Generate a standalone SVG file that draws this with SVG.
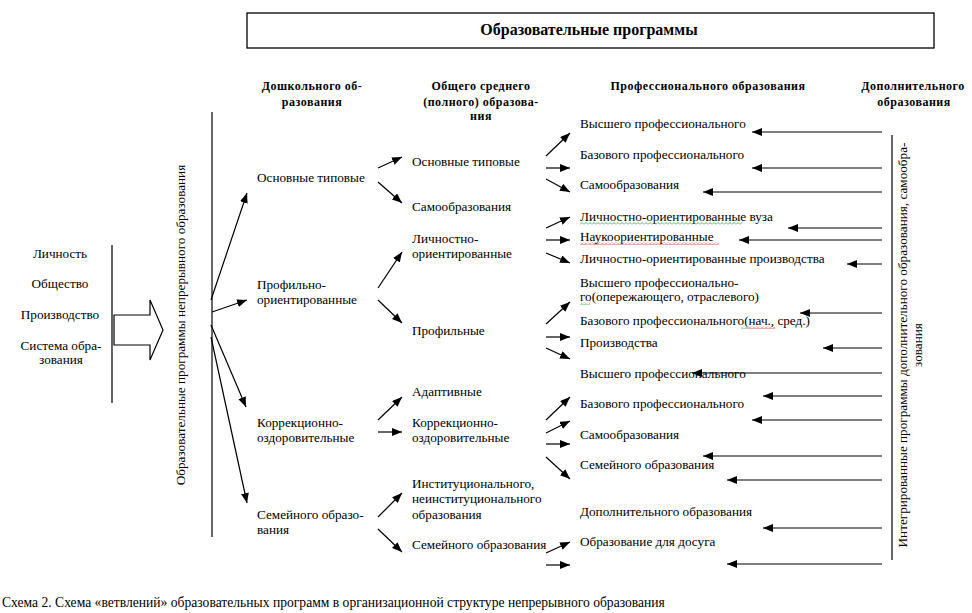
<svg xmlns="http://www.w3.org/2000/svg" width="972" height="613" viewBox="0 0 972 613">
<style>
text{font-family:"Liberation Serif","DejaVu Serif","Times New Roman",serif;font-size:13.2px;fill:#000}
.h{font-weight:bold;font-size:12px;letter-spacing:0.5px;text-anchor:middle}
.t{font-weight:bold;font-size:16px;text-anchor:middle}
.m{text-anchor:middle}
.cap{font-size:13.6px}
.ln{stroke:#000;stroke-width:1.2;fill:none}
.ar{stroke:#000;stroke-width:1.2;fill:none;marker-end:url(#ah)}
</style>
<defs>
<marker id="ah" markerUnits="userSpaceOnUse" markerWidth="11" markerHeight="9" refX="10" refY="4" orient="auto">
<path d="M0,0 L10,4 L0,8 z" fill="#000"/>
</marker>
<pattern id="sqg" patternUnits="userSpaceOnUse" width="4" height="3"><path d="M0,2.5 L2,0.5 L4,2.5" stroke="#3a9a3a" stroke-width="0.8" fill="none"/></pattern>
<pattern id="sqr" patternUnits="userSpaceOnUse" width="4" height="3"><path d="M0,2.5 L2,0.5 L4,2.5" stroke="#e02020" stroke-width="0.8" fill="none"/></pattern>
</defs>
<rect width="972" height="613" fill="#fff"/>

<g id="title">
<rect x="247" y="13" width="687" height="35" fill="#fff" stroke="#000" stroke-width="1.3"/>
<text class="t" x="589" y="35">Образовательные программы</text>
</g>

<g id="headers">
<text class="h" x="312" y="90">Дошкольного об-</text>
<text class="h" x="312" y="106">разования</text>
<text class="h" x="481" y="90">Общего среднего</text>
<text class="h" x="481" y="106">(полного) образова-</text>
<text class="h" x="481" y="120">ния</text>
<text class="h" x="708" y="90">Профессионального образования</text>
<text class="h" x="913" y="90">Дополнительного</text>
<text class="h" x="914" y="106">образования</text>
</g>

<g id="factors">
<text class="m" x="60" y="258">Личность</text>
<text class="m" x="60" y="288">Общество</text>
<text class="m" x="60" y="319">Производство</text>
<text class="m" x="61" y="350">Система обра-</text>
<text class="m" x="61" y="364">зования</text>
<line class="ln" x1="112" y1="245" x2="112" y2="403"/>
<polygon points="114,315 150,315 150,300 163,330 150,360 150,345 114,345" fill="#fff" stroke="#000" stroke-width="1.2"/>
</g>

<g id="continuous-programs">
<line class="ln" x1="212" y1="112" x2="212" y2="537"/>
<text class="m" transform="translate(185,325) rotate(-90)">Образовательные программы непрерывного образования</text>
</g>

<g id="integrated-programs">
<line class="ln" x1="892" y1="135" x2="892" y2="560"/>
<text class="m" transform="translate(907,345) rotate(-90)">Интегрированные программы дополнительного образования, самообра-</text>
<text class="m" transform="translate(922,345) rotate(-90)">зования</text>
</g>

<g id="preschool">
<text x="257" y="182">Основные типовые</text>
<text x="257" y="289">Профильно-</text>
<text x="257" y="304">ориентированные</text>
<text x="257" y="427">Коррекционно-</text>
<text x="257" y="442">оздоровительные</text>
<text x="257" y="519">Семейного образо-</text>
<text x="257" y="534">вания</text>
</g>

<g id="general">
<text x="412" y="166">Основные типовые</text>
<text x="412" y="211">Самообразования</text>
<text x="412" y="243">Личностно-</text>
<text x="412" y="258">ориентированные</text>
<text x="412" y="335">Профильные</text>
<text x="412" y="396">Адаптивные</text>
<text x="412" y="427">Коррекционно-</text>
<text x="412" y="442">оздоровительные</text>
<text x="412" y="488">Институционального,</text>
<text x="412" y="503">неинституционального</text>
<text x="412" y="519">образования</text>
<text x="412" y="549">Семейного образования</text>
</g>

<g id="professional">
<text x="580" y="128">Высшего профессионального</text>
<text x="580" y="159">Базового профессионального</text>
<text x="580" y="189">Самообразования</text>
<text x="580" y="221">Личностно-ориентированные вуза</text>
<text x="580" y="241">Наукоориентированные</text>
<text x="580" y="263">Личностно-ориентированные производства</text>
<text x="580" y="287">Высшего профессионально-</text>
<text x="580" y="301">го(опережающего, отраслевого)</text>
<text x="580" y="325">Базового профессионального(нач., сред.)</text>
<text x="580" y="347">Производства</text>
<text x="580" y="378">Высшего профессионального</text>
<text x="580" y="408">Базового профессионального</text>
<text x="580" y="439">Самообразования</text>
<text x="580" y="469">Семейного образования</text>
<text x="580" y="516">Дополнительного образования</text>
<text x="580" y="546">Образование для досуга</text>
<rect x="580" y="222" width="162" height="3" fill="url(#sqg)"/>
<rect x="580" y="242" width="139" height="3" fill="url(#sqr)"/>
<rect x="580" y="302" width="10" height="3" fill="url(#sqg)"/>
<rect x="741" y="326" width="6" height="3" fill="url(#sqg)"/>
<rect x="747" y="326" width="28" height="3" fill="url(#sqr)"/>
</g>

<g id="connectors">
<line class="ar" x1="211" y1="300" x2="247" y2="193"/>
<line class="ar" x1="212" y1="312" x2="247" y2="300"/>
<line class="ar" x1="211" y1="325" x2="246" y2="407"/>
<line class="ar" x1="211" y1="337" x2="247" y2="503"/>

<line class="ar" x1="378" y1="168" x2="402" y2="157"/>
<line class="ar" x1="378" y1="182" x2="402" y2="203"/>
<line class="ar" x1="378" y1="288" x2="402" y2="252"/>
<line class="ar" x1="378" y1="300" x2="402" y2="323"/>
<line class="ar" x1="378" y1="420" x2="402" y2="397"/>
<line class="ar" x1="378" y1="432" x2="402" y2="432"/>
<line class="ar" x1="378" y1="517" x2="402" y2="493"/>
<line class="ar" x1="378" y1="529" x2="402" y2="552"/>

<line class="ar" x1="546" y1="156" x2="570" y2="133"/>
<line class="ar" x1="546" y1="168" x2="570" y2="168"/>
<line class="ar" x1="546" y1="179" x2="570" y2="192"/>
<line class="ar" x1="546" y1="228" x2="570" y2="217"/>
<line class="ar" x1="546" y1="240" x2="570" y2="240"/>
<line class="ar" x1="546" y1="253" x2="570" y2="263"/>
<line class="ar" x1="546" y1="324" x2="570" y2="302"/>
<line class="ar" x1="546" y1="337" x2="570" y2="337"/>
<line class="ar" x1="546" y1="348" x2="570" y2="359"/>
<line class="ar" x1="546" y1="420" x2="570" y2="397"/>
<line class="ar" x1="546" y1="433" x2="570" y2="421"/>
<line class="ar" x1="546" y1="444" x2="570" y2="444"/>
<line class="ar" x1="546" y1="457" x2="570" y2="479"/>
<line class="ar" x1="546" y1="553" x2="570" y2="542"/>
<line class="ar" x1="546" y1="565" x2="570" y2="565"/>

<line class="ar" x1="882" y1="132" x2="752" y2="132"/>
<line class="ar" x1="882" y1="168" x2="752" y2="168"/>
<line class="ar" x1="882" y1="192" x2="703" y2="192"/>
<line class="ar" x1="882" y1="228" x2="788" y2="228"/>
<line class="ar" x1="882" y1="240" x2="739" y2="240"/>
<line class="ar" x1="882" y1="264" x2="847" y2="264"/>
<line class="ar" x1="882" y1="313" x2="800" y2="313"/>
<line class="ar" x1="882" y1="348" x2="823" y2="348"/>
<line class="ar" x1="882" y1="373" x2="692" y2="373"/>
<line class="ar" x1="882" y1="396" x2="763" y2="396"/>
<line class="ar" x1="882" y1="420" x2="752" y2="420"/>
<line class="ar" x1="882" y1="456" x2="703" y2="456"/>
<line class="ar" x1="882" y1="480" x2="727" y2="480"/>
<line class="ar" x1="882" y1="528" x2="763" y2="528"/>
<line class="ar" x1="882" y1="564" x2="727" y2="564"/>
</g>

<g id="caption">
<text class="cap" x="2" y="607">Схема 2. Схема «ветвлений» образовательных программ в организационной структуре непрерывного образования</text>
</g>
</svg>
